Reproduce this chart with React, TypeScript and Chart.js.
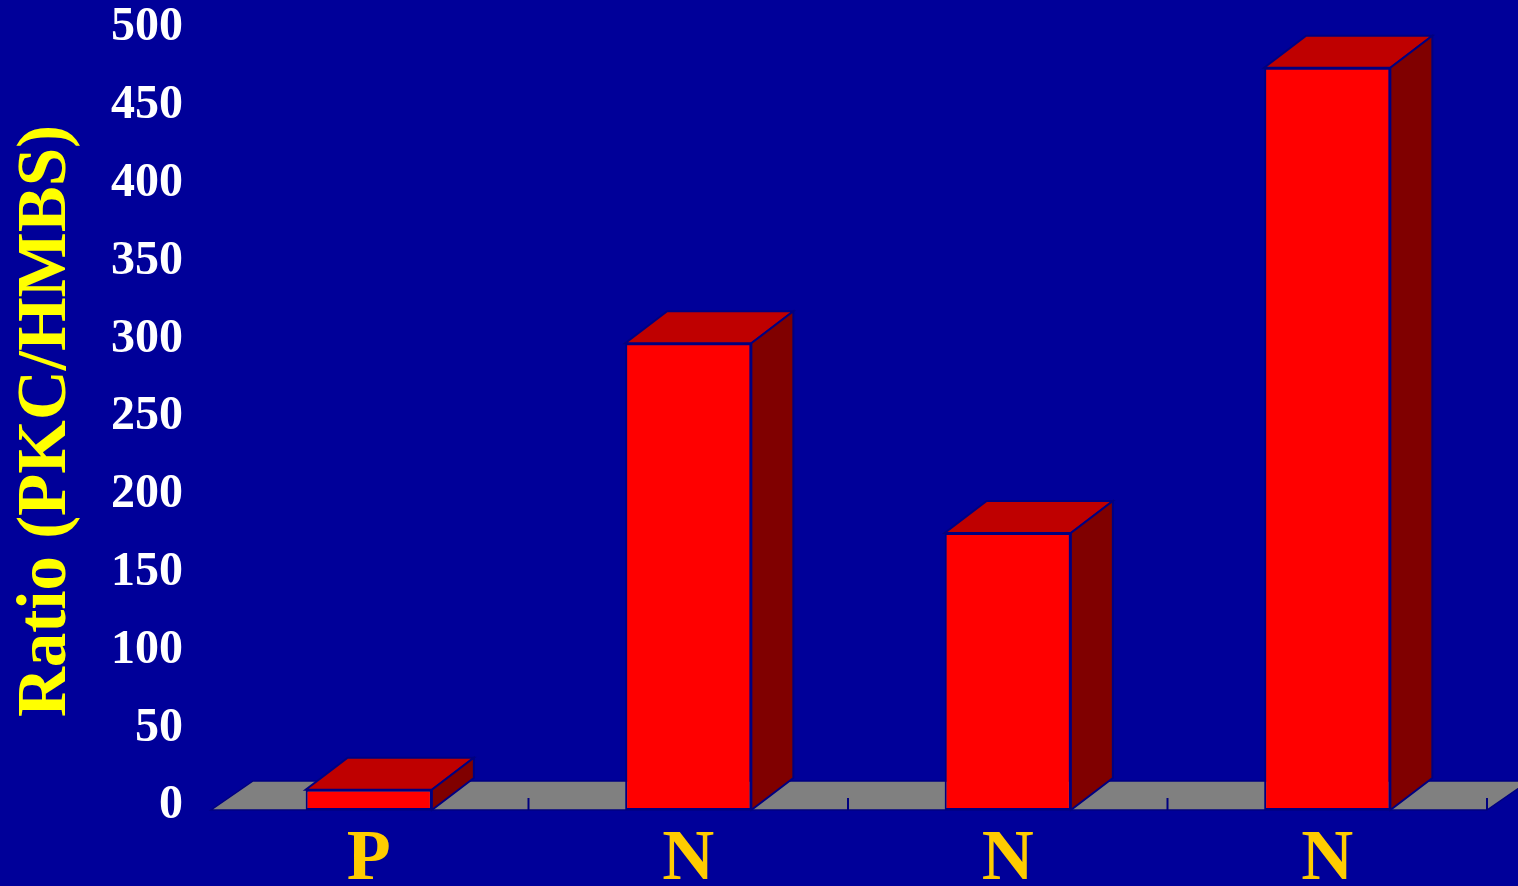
import { useEffect, useRef } from 'react';
import { Chart, registerables } from 'chart.js';

Chart.register(...registerables);

// PKC/HMBS expression ratio per sample
const categories = ['P', 'N', 'N', 'N'];
const ratios = [13, 300, 178, 477];
const valueTicks = [0, 50, 100, 150, 200, 250, 300, 350, 400, 450, 500];

const BG = '#000099';
const EDGE = '#000080';
const FRONT = '#FF0000';
const TOP = '#BF0000';
const SIDE = '#800000';
const FLOOR = '#808080';
const DEPTH_X = 42;
const DEPTH_Y = -32;

const SERIF = '"Liberation Serif", "Times New Roman", Times, serif';

// Grey floor slab with the small category tick marks on its front edge
const floorPlugin = {
  id: 'floor3d',
  beforeDatasetsDraw(chart: any) {
    const { ctx, chartArea, scales } = chart;
    const y0 = scales.y.getPixelForValue(0);
    const l = chartArea.left;
    const r = chartArea.right;
    ctx.save();
    ctx.beginPath();
    ctx.moveTo(l + 2, y0);
    ctx.lineTo(r, y0);
    ctx.lineTo(r + DEPTH_X, y0 + DEPTH_Y + 3);
    ctx.lineTo(l + 2 + DEPTH_X, y0 + DEPTH_Y + 3);
    ctx.closePath();
    ctx.fillStyle = FLOOR;
    ctx.fill();
    ctx.lineWidth = 1.5;
    ctx.strokeStyle = EDGE;
    ctx.stroke();

    const xs = scales.x;
    const n = categories.length;
    ctx.lineWidth = 2;
    ctx.strokeStyle = EDGE;
    for (let i = 1; i <= n; i++) {
      const bx = i < n ? (xs.getPixelForValue(i - 1) + xs.getPixelForValue(i)) / 2 : r;
      ctx.beginPath();
      ctx.moveTo(bx, y0);
      ctx.lineTo(bx, y0 - 12);
      ctx.stroke();
    }
    ctx.restore();
  },
};

// Top and side faces that give each bar its depth
const boxPlugin = {
  id: 'box3d',
  afterDatasetsDraw(chart: any) {
    const { ctx } = chart;
    const meta = chart.getDatasetMeta(0);
    ctx.save();
    ctx.lineWidth = 2;
    ctx.strokeStyle = EDGE;
    ctx.lineJoin = 'miter';
    meta.data.forEach((bar: any) => {
      const { x, y, base, width } = bar.getProps(['x', 'y', 'base', 'width'], true);
      const xl = x - width / 2;
      const xr = x + width / 2;
      // top face
      ctx.beginPath();
      ctx.moveTo(xl, y);
      ctx.lineTo(xr, y);
      ctx.lineTo(xr + DEPTH_X, y + DEPTH_Y);
      ctx.lineTo(xl + DEPTH_X, y + DEPTH_Y);
      ctx.closePath();
      ctx.fillStyle = TOP;
      ctx.fill();
      ctx.stroke();
      // right side face
      ctx.beginPath();
      ctx.moveTo(xr, y);
      ctx.lineTo(xr + DEPTH_X, y + DEPTH_Y);
      ctx.lineTo(xr + DEPTH_X, base + DEPTH_Y);
      ctx.lineTo(xr, base);
      ctx.closePath();
      ctx.fillStyle = SIDE;
      ctx.fill();
      ctx.stroke();
    });
    ctx.restore();
  },
};

export default function App() {
  const canvasRef = useRef<HTMLCanvasElement | null>(null);

  useEffect(() => {
    const canvas = canvasRef.current;
    if (!canvas) return;
    const chart = new Chart(canvas, {
      type: 'bar',
      data: {
        labels: categories,
        datasets: [
          {
            data: ratios,
            backgroundColor: FRONT,
            borderColor: EDGE,
            borderWidth: 2,
            borderSkipped: false,
            barPercentage: 0.395,
            categoryPercentage: 1,
          },
        ],
      },
      options: {
        animation: false,
        responsive: true,
        maintainAspectRatio: false,
        layout: { padding: { top: 32, right: 31, left: 0, bottom: 0 } },
        plugins: {
          legend: { display: false },
          tooltip: { enabled: false },
        },
        scales: {
          x: {
            grid: { display: false, drawTicks: false },
            border: { display: false },
            ticks: {
              color: '#FFCC00',
              padding: 7,
              font: { family: SERIF, size: 72, weight: 'bold' },
            },
            afterFit: (s: any) => {
              s.height = 76;
              s.paddingLeft = 0;
              s.paddingRight = 0;
            },
          },
          y: {
            min: 0,
            max: 500,
            grid: { display: false, drawTicks: false },
            border: { display: false },
            afterBuildTicks: (s: any) => {
              s.ticks = valueTicks.map((v) => ({ value: v }));
            },
            ticks: {
              color: '#FFFFFF',
              padding: 26,
              labelOffset: -4,
              font: { family: SERIF, size: 48, weight: 'bold' },
            },
            title: {
              display: true,
              text: 'Ratio (PKC/HMBS)',
              color: '#FFFF00',
              padding: { top: 6, bottom: 0 },
              font: { family: SERIF, size: 69, weight: 'bold', lineHeight: 1.2 },
            },
            afterFit: (s: any) => {
              s.width = 209;
              s.paddingTop = 0;
              s.paddingBottom = 0;
            },
          },
        },
      },
      plugins: [floorPlugin, boxPlugin],
    });
    return () => chart.destroy();
  }, []);

  return (
    <div
      style={{
        position: 'fixed',
        left: 0,
        top: 0,
        width: 1518,
        height: 886,
        background: BG,
      }}
    >
      <canvas ref={canvasRef} />
    </div>
  );
}
